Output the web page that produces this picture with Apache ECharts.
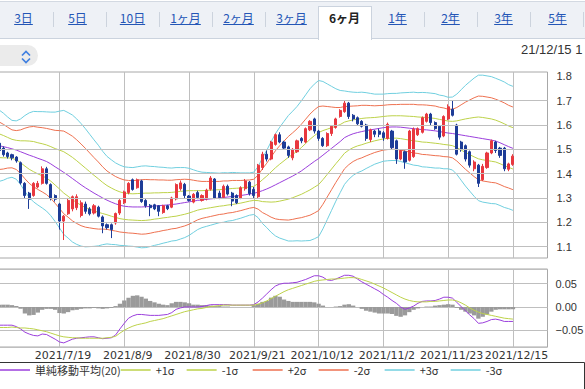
<!DOCTYPE html>
<html><head><meta charset="utf-8">
<script src="https://cdn.jsdelivr.net/npm/echarts@6/dist/echarts.min.js"></script>
<style>
html,body{margin:0;padding:0;background:#fff;width:585px;height:389px;overflow:hidden;}
#chart{position:absolute;left:0;top:0;width:585px;height:389px;}
#hdr{position:absolute;left:0;top:0;width:585px;height:70px;font-family:"Noto Sans CJK JP",sans-serif;z-index:2;}
.bar{position:absolute;left:0;top:1px;width:585px;height:36px;background:#eef1f6;border-top:1px solid #d3d9e2;border-bottom:1px solid #cbd3de;}
.tab{position:absolute;top:10px;width:53px;text-align:center;font-size:12px;line-height:16px;color:#2456b6;text-decoration:underline;}
.tab.on{color:#222;font-weight:bold;text-decoration:none;}
.sep{position:absolute;top:12px;width:1px;height:15px;background:#ccd3dd;}
.act{position:absolute;left:318px;top:6px;width:52px;height:33px;background:#fff;border:1px solid #cbd3de;border-bottom:none;}
.dd{position:absolute;left:-14px;top:45px;width:52px;height:21px;border-radius:11px;background:#ebebeb;}
.date{position:absolute;left:521px;top:42px;font:13px "Liberation Sans",Arial,sans-serif;line-height:16px;color:#333;white-space:nowrap;}
</style></head>
<body>
<div id="chart"></div>
<div id="hdr">
  <div class="bar"></div>
  <div class="act"></div>
  <div class="sep" style="left:53px"></div>
  <div class="sep" style="left:106px"></div>
  <div class="sep" style="left:159px"></div>
  <div class="sep" style="left:212px"></div>
  <div class="sep" style="left:265px"></div>
  <div class="sep" style="left:424px"></div>
  <div class="sep" style="left:477px"></div>
  <div class="sep" style="left:530px"></div>
  <div class="sep" style="left:583px"></div>
  <div class="tab" style="left:-3px">3日</div>
  <div class="tab" style="left:51px">5日</div>
  <div class="tab" style="left:106px">10日</div>
  <div class="tab" style="left:159px">1ヶ月</div>
  <div class="tab" style="left:212px">2ヶ月</div>
  <div class="tab" style="left:265px">3ヶ月</div>
  <div class="tab on" style="left:318px">6ヶ月</div>
  <div class="tab" style="left:371px">1年</div>
  <div class="tab" style="left:424px">2年</div>
  <div class="tab" style="left:477px">3年</div>
  <div class="tab" style="left:531px">5年</div>
  <div class="dd"></div>
  <svg style="position:absolute;left:20px;top:49px" width="12" height="16" viewBox="0 0 12 16">
    <polyline points="2,6.5 6,2.5 10,6.5" fill="none" stroke="#3f7fe0" stroke-width="1.7"/>
    <polyline points="2,9.5 6,13.5 10,9.5" fill="none" stroke="#3f7fe0" stroke-width="1.7"/>
  </svg>
  <div class="date">21/12/15 1</div>
</div>
<script>
const dates = ['2021/6/28','2021/6/29','2021/6/30','2021/7/1','2021/7/2','2021/7/6','2021/7/7','2021/7/8','2021/7/9','2021/7/12','2021/7/13','2021/7/14','2021/7/15','2021/7/16','2021/7/19','2021/7/20','2021/7/21','2021/7/22','2021/7/23','2021/7/26','2021/7/27','2021/7/28','2021/7/29','2021/7/30','2021/8/2','2021/8/3','2021/8/4','2021/8/5','2021/8/6','2021/8/9','2021/8/10','2021/8/11','2021/8/12','2021/8/13','2021/8/16','2021/8/17','2021/8/18','2021/8/19','2021/8/20','2021/8/23','2021/8/24','2021/8/25','2021/8/26','2021/8/27','2021/8/30','2021/8/31','2021/9/1','2021/9/2','2021/9/3','2021/9/7','2021/9/8','2021/9/9','2021/9/10','2021/9/13','2021/9/14','2021/9/15','2021/9/16','2021/9/17','2021/9/20','2021/9/21','2021/9/22','2021/9/23','2021/9/24','2021/9/27','2021/9/28','2021/9/29','2021/9/30','2021/10/1','2021/10/4','2021/10/5','2021/10/6','2021/10/7','2021/10/8','2021/10/11','2021/10/12','2021/10/13','2021/10/14','2021/10/15','2021/10/18','2021/10/19','2021/10/20','2021/10/21','2021/10/22','2021/10/25','2021/10/26','2021/10/27','2021/10/28','2021/10/29','2021/11/1','2021/11/2','2021/11/3','2021/11/4','2021/11/5','2021/11/8','2021/11/9','2021/11/10','2021/11/11','2021/11/12','2021/11/15','2021/11/16','2021/11/17','2021/11/18','2021/11/19','2021/11/22','2021/11/23','2021/11/24','2021/11/26','2021/11/29','2021/11/30','2021/12/1','2021/12/2','2021/12/3','2021/12/6','2021/12/7','2021/12/8','2021/12/9','2021/12/10','2021/12/13','2021/12/14','2021/12/15'];
const emptySlots = 8;
const tickDates = ['2021/7/19','2021/8/9','2021/8/30','2021/9/21','2021/10/12','2021/11/2','2021/11/23','2021/12/15'];
const priceTicks = [1.1,1.2,1.3,1.4,1.5,1.6,1.7];

const opens = [1.525,1.505,1.485,1.478,1.468,1.445,1.36,1.32,1.31,1.345,
1.36,1.42,1.355,1.31,1.275,1.205,1.235,1.255,1.26,1.228,
1.275,1.255,1.238,1.262,1.222,1.19,1.19,1.197,1.238,1.28,
1.322,1.375,1.342,1.37,1.29,1.27,1.272,1.268,1.24,1.268,
1.262,1.296,1.338,1.356,1.308,1.283,1.322,1.29,1.296,1.336,
1.378,1.32,1.303,1.348,1.32,1.31,1.30,1.338,1.365,1.335,
1.305,1.425,1.48,1.46,1.52,1.56,1.53,1.51,1.465,1.49,
1.545,1.53,1.58,1.625,1.575,1.545,1.515,1.565,1.59,1.635,
1.655,1.69,1.64,1.63,1.615,1.60,1.54,1.575,1.575,1.568,
1.545,1.575,1.535,1.46,1.49,1.455,1.47,1.56,1.57,1.615,
1.645,1.61,1.595,1.555,1.625,1.665,1.60,1.53,1.515,1.49,
1.42,1.435,1.375,1.425,1.485,1.53,1.505,1.505,1.418,1.438];
const closes = [1.495,1.478,1.47,1.465,1.452,1.362,1.31,1.295,1.36,1.36,
1.42,1.36,1.30,1.295,1.205,1.225,1.29,1.305,1.305,1.28,
1.245,1.235,1.268,1.225,1.185,1.178,1.17,1.236,1.29,1.325,
1.36,1.335,1.375,1.285,1.268,1.26,1.255,1.245,1.268,1.256,
1.30,1.355,1.362,1.31,1.29,1.315,1.302,1.31,1.332,1.382,
1.30,1.302,1.348,1.316,1.287,1.28,1.342,1.37,1.318,1.31,
1.435,1.48,1.46,1.53,1.56,1.53,1.505,1.475,1.50,1.535,
1.535,1.585,1.615,1.575,1.545,1.515,1.565,1.595,1.625,1.66,
1.69,1.635,1.625,1.605,1.595,1.545,1.58,1.562,1.562,1.548,
1.603,1.507,1.46,1.495,1.448,1.575,1.583,1.585,1.63,1.645,
1.61,1.585,1.55,1.635,1.675,1.64,1.48,1.50,1.46,1.435,
1.448,1.36,1.43,1.485,1.535,1.495,1.475,1.42,1.44,1.472];
const lows = [1.49,1.47,1.462,1.455,1.445,1.355,1.30,1.255,1.305,1.34,
1.355,1.355,1.29,1.285,1.17,1.127,1.23,1.245,1.25,1.22,
1.235,1.228,1.232,1.22,1.155,1.17,1.135,1.19,1.23,1.275,
1.315,1.33,1.338,1.28,1.26,1.225,1.25,1.225,1.235,1.25,
1.258,1.29,1.33,1.30,1.285,1.278,1.295,1.285,1.29,1.33,
1.295,1.295,1.298,1.31,1.266,1.275,1.295,1.33,1.31,1.30,
1.30,1.415,1.45,1.455,1.515,1.525,1.50,1.465,1.455,1.485,
1.525,1.525,1.575,1.565,1.535,1.51,1.51,1.555,1.585,1.63,
1.65,1.625,1.615,1.60,1.59,1.535,1.53,1.55,1.55,1.535,
1.54,1.50,1.44,1.455,1.42,1.45,1.465,1.555,1.565,1.61,
1.60,1.58,1.54,1.55,1.62,1.635,1.475,1.49,1.45,1.425,
1.41,1.345,1.37,1.42,1.48,1.485,1.465,1.41,1.41,1.432];
const highs = [1.535,1.512,1.49,1.482,1.472,1.45,1.365,1.325,1.365,1.37,
1.43,1.428,1.36,1.315,1.28,1.23,1.30,1.31,1.315,1.29,
1.285,1.262,1.275,1.268,1.228,1.195,1.195,1.24,1.295,1.33,
1.365,1.38,1.38,1.375,1.295,1.275,1.276,1.27,1.272,1.272,
1.305,1.36,1.372,1.362,1.312,1.32,1.33,1.315,1.338,1.39,
1.382,1.33,1.355,1.355,1.325,1.315,1.348,1.378,1.37,1.345,
1.44,1.49,1.495,1.535,1.565,1.57,1.535,1.515,1.505,1.54,
1.55,1.59,1.62,1.63,1.58,1.55,1.57,1.60,1.63,1.665,
1.70,1.695,1.645,1.635,1.62,1.605,1.585,1.58,1.585,1.575,
1.61,1.58,1.54,1.50,1.495,1.58,1.59,1.59,1.635,1.65,
1.65,1.615,1.60,1.64,1.685,1.70,1.605,1.535,1.52,1.495,
1.455,1.44,1.44,1.49,1.54,1.535,1.51,1.51,1.445,1.48];

const ma20 = [1.515,1.511,1.507,1.502,1.497,1.49,1.483,1.476,1.47,1.463,
1.457,1.45,1.44,1.428,1.417,1.405,1.393,1.38,1.367,1.354,
1.342,1.331,1.32,1.31,1.30,1.291,1.283,1.276,1.27,1.266,
1.264,1.263,1.263,1.263,1.264,1.265,1.267,1.268,1.27,1.271,
1.273,1.275,1.278,1.281,1.284,1.287,1.29,1.292,1.294,1.296,
1.298,1.30,1.302,1.304,1.306,1.308,1.31,1.313,1.316,1.319,
1.324,1.33,1.337,1.345,1.354,1.363,1.372,1.381,1.39,1.40,
1.411,1.424,1.437,1.45,1.462,1.476,1.49,1.504,1.518,1.532,
1.548,1.557,1.564,1.569,1.573,1.577,1.58,1.583,1.586,1.589,
1.591,1.592,1.592,1.591,1.589,1.587,1.585,1.583,1.581,1.58,
1.578,1.576,1.573,1.57,1.567,1.565,1.562,1.559,1.556,1.553,
1.55,1.547,1.544,1.541,1.538,1.534,1.527,1.519,1.511,1.504];
const sigma20 = [0.049,0.046,0.042,0.039,0.04,0.045,0.052,0.058,0.062,0.064,
0.066,0.068,0.071,0.075,0.08,0.085,0.086,0.087,0.086,0.084,
0.081,0.077,0.073,0.069,0.064,0.06,0.058,0.056,0.055,0.054,
0.054,0.054,0.055,0.056,0.056,0.055,0.054,0.053,0.052,0.051,
0.05,0.05,0.049,0.048,0.046,0.043,0.04,0.038,0.037,0.036,
0.035,0.034,0.034,0.033,0.033,0.032,0.031,0.03,0.029,0.029,
0.035,0.045,0.053,0.062,0.07,0.076,0.081,0.086,0.089,0.092,
0.096,0.1,0.104,0.106,0.107,0.101,0.093,0.085,0.077,0.07,
0.064,0.06,0.057,0.055,0.054,0.052,0.05,0.048,0.047,0.046,
0.046,0.046,0.046,0.047,0.048,0.049,0.05,0.05,0.051,0.051,
0.051,0.051,0.05,0.05,0.049,0.05,0.055,0.062,0.069,0.075,
0.081,0.086,0.087,0.087,0.087,0.086,0.086,0.086,0.085,0.085];

const macdLine = [-0.039,-0.039,-0.039,-0.039,-0.042,-0.047,-0.054,-0.058,-0.061,-0.062,
-0.058,-0.059,-0.064,-0.069,-0.075,-0.077,-0.073,-0.069,-0.067,-0.066,
-0.065,-0.064,-0.064,-0.066,-0.068,-0.067,-0.066,-0.06,-0.047,-0.035,
-0.024,-0.019,-0.016,-0.016,-0.017,-0.018,-0.018,-0.018,-0.017,-0.016,
-0.012,-0.005,-0.002,0,0,0,0,0.001,0.003,0.005,
0.005,0.005,0.005,0.005,0.004,0.004,0.004,0.004,0.004,0.005,
0.011,0.019,0.028,0.037,0.045,0.049,0.051,0.051,0.052,0.053,
0.056,0.059,0.063,0.067,0.067,0.064,0.058,0.057,0.06,0.064,
0.068,0.068,0.066,0.06,0.054,0.049,0.044,0.039,0.034,0.027,
0.021,0.014,0.008,0,-0.005,-0.002,0.002,0.008,0.012,0.013,
0.013,0.014,0.017,0.021,0.021,0.019,0.01,0.001,-0.008,-0.017,
-0.025,-0.035,-0.034,-0.031,-0.027,-0.026,-0.028,-0.031,-0.031,-0.031];
const signalLine = [-0.044,-0.044,-0.044,-0.043,-0.044,-0.045,-0.045,-0.046,-0.047,-0.049,
-0.051,-0.053,-0.056,-0.059,-0.062,-0.064,-0.065,-0.066,-0.066,-0.067,
-0.067,-0.067,-0.067,-0.067,-0.067,-0.066,-0.065,-0.063,-0.056,-0.05,
-0.045,-0.041,-0.038,-0.036,-0.034,-0.031,-0.029,-0.027,-0.025,-0.022,
-0.019,-0.016,-0.013,-0.01,-0.008,-0.006,-0.004,-0.003,-0.001,0.001,
0.002,0.003,0.004,0.004,0.004,0.004,0.004,0.004,0.004,0.004,
0.006,0.009,0.013,0.018,0.023,0.028,0.033,0.037,0.04,0.043,
0.046,0.049,0.052,0.055,0.057,0.058,0.059,0.06,0.06,0.061,
0.062,0.063,0.063,0.062,0.059,0.056,0.053,0.049,0.045,0.041,
0.036,0.031,0.026,0.021,0.017,0.014,0.012,0.011,0.011,0.011,
0.012,0.012,0.013,0.014,0.015,0.015,0.013,0.009,0.004,-0.002,
-0.007,-0.011,-0.014,-0.016,-0.018,-0.02,-0.022,-0.024,-0.025,-0.026];
const histBars = [0.005,0.005,0.005,0.004,0.002,-0.004,-0.014,-0.018,-0.017,-0.012,
-0.006,-0.004,-0.004,-0.006,-0.013,-0.014,-0.011,-0.007,-0.006,-0.004,
-0.003,-0.003,-0.002,-0.003,-0.004,-0.003,-0.002,0.002,0.007,0.014,
0.02,0.024,0.025,0.022,0.018,0.013,0.01,0.007,0.005,0.004,
0.008,0.011,0.011,0.01,0.008,0.005,0.005,0.004,0.004,0.003,
0.002,0.002,0.001,0.001,0,0,0,0,0,0.004,
0.007,0.011,0.013,0.02,0.024,0.022,0.016,0.013,0.011,0.011,
0.011,0.011,0.011,0.01,0.007,0.003,0,0,0.001,0.002,
0.005,0.006,0.003,0,-0.004,-0.008,-0.01,-0.012,-0.014,-0.014,
-0.014,-0.015,-0.019,-0.021,-0.018,-0.011,-0.006,-0.003,0,0.001,
0.001,0.003,0.004,0.005,0.006,0.005,-0.002,-0.006,-0.01,-0.014,
-0.018,-0.025,-0.021,-0.016,-0.01,-0.006,-0.005,-0.005,-0.005,-0.005];

const categories = dates.concat(Array(emptySlots).fill(''));
const tickIdx = new Set(tickDates.map(d => dates.indexOf(d)));
const atTick = (i) => tickIdx.has(i);
const candles = opens.map((o, i) => [o, closes[i], lows[i], highs[i]]);
const band = (k) => ma20.map((m, i) => +(m + k * sigma20[i]).toFixed(4));

const GRID = '#bfbfbf', FRAME = '#a8a8a8';
const C_MA = '#9b3fdc', C_1 = '#bdd24a', C_2 = '#ee7150', C_3 = '#70cfdf';
const lineS = (name, data, color, extra) => Object.assign({
  name, type: 'line', data, xAxisIndex: 0, yAxisIndex: 0, symbol: 'none',
  lineStyle: { color, width: 1 }, itemStyle: { color }, z: 2, silent: true
}, extra || {});

const chart = echarts.init(document.getElementById('chart'), null, { renderer: 'svg' });
chart.setOption({
  animation: false,
  grid: [
    { left: -1, top: 72, width: 548.5, height: 186, show: true, borderColor: FRAME, borderWidth: 1, backgroundColor: 'rgba(0,0,0,0)', outerBoundsMode: 'none' },
    { left: -1, top: 269, width: 548.5, height: 78, show: true, borderColor: FRAME, borderWidth: 1, backgroundColor: 'rgba(0,0,0,0)', outerBoundsMode: 'none' }
  ],
  xAxis: [
    { type: 'category', gridIndex: 0, data: categories, boundaryGap: false,
      axisLine: { show: false }, axisTick: { show: false }, axisLabel: { show: false },
      splitLine: { show: true, interval: (i) => atTick(i), lineStyle: { color: GRID, width: 1 } } },
    { type: 'category', gridIndex: 1, data: categories, boundaryGap: false,
      axisLine: { show: false }, axisTick: { show: false },
      axisLabel: { show: true, interval: (i) => atTick(i), color: '#333', fontSize: 11, fontFamily: 'DejaVu Sans', margin: 3, padding: [0, 0, 0, 7] },
      splitLine: { show: true, interval: (i) => atTick(i), lineStyle: { color: GRID, width: 1 } } }
  ],
  yAxis: [
    { type: 'value', gridIndex: 0, position: 'right', min: 1.0531, max: 1.818, minInterval: 0.1, maxInterval: 0.1,
      axisLine: { show: false }, axisTick: { show: false }, splitLine: { show: false },
      axisLabel: { margin: 9, color: '#333', fontSize: 11, fontFamily: 'Liberation Sans',
        formatter: (v) => Math.abs(v * 10 - Math.round(v * 10)) > 1e-6 ? '' : v.toFixed(1) } },
    { type: 'value', gridIndex: 1, position: 'right', min: -0.0858, max: 0.0815, minInterval: 0.05, maxInterval: 0.05,
      axisLine: { show: false }, axisTick: { show: false },
      splitLine: { show: true, lineStyle: { color: GRID, width: 1 } },
      axisLabel: { margin: 8, color: '#333', fontSize: 11, fontFamily: 'Liberation Sans',
        formatter: (v) => {
          if (Math.abs(v * 20 - Math.round(v * 20)) > 1e-6) return '';
          if (Math.abs(v) < 1e-9) return '0.00';
          return (v < 0 ? '\u2212' : '') + Math.abs(v).toFixed(2);
        } } }
  ],
  legend: {
    left: 0, top: 363, padding: 0, itemGap: 0, itemWidth: 30, itemHeight: 1.5, icon: 'rect', selectedMode: false,
    textStyle: { fontFamily: 'Noto Sans CJK JP', fontSize: 11, color: '#333', lineHeight: 14 },
    data: [
      { name: '単純移動平均(20)' },
      { name: '+1σ', textStyle: { width: 31 } },
      { name: '-1σ', textStyle: { width: 31 } },
      { name: '+2σ', textStyle: { width: 31 } },
      { name: '-2σ', textStyle: { width: 31 } },
      { name: '+3σ', textStyle: { width: 31 } },
      { name: '-3σ', textStyle: { width: 31 } }
    ]
  },
  graphic: [
    { type: 'rect', silent: true, z: 100, shape: { x: -2, y: 362.5, width: 586.5, height: 40 },
      style: { fill: 'none', stroke: '#333', lineWidth: 1 } }
  ],
  series: [
    lineS('-3σ', band(-3), C_3, {
      markLine: { silent: true, symbol: ['none', 'none'], label: { show: false }, animation: false,
        lineStyle: { color: GRID, type: 'solid', width: 1 },
        data: priceTicks.map(v => ({ yAxis: v })) }
    }),
    lineS('+3σ', band(3), C_3),
    lineS('-2σ', band(-2), C_2),
    lineS('+2σ', band(2), C_2),
    lineS('-1σ', band(-1), C_1),
    lineS('+1σ', band(1), C_1),
    lineS('単純移動平均(20)', ma20, C_MA),
    { name: 'price', type: 'candlestick', xAxisIndex: 0, yAxisIndex: 0, data: candles, barWidth: 2.6, z: 3, silent: true,
      itemStyle: { color: '#e8383f', color0: '#1d3c97', borderColor: '#e8383f', borderColor0: '#1d3c97', borderWidth: 1 } },
    { name: 'hist', type: 'bar', xAxisIndex: 1, yAxisIndex: 1, data: histBars, barCategoryGap: '0%', silent: true,
      itemStyle: { color: '#9a9a9a' }, z: 2 },
    { name: 'MACD', type: 'line', xAxisIndex: 1, yAxisIndex: 1, data: macdLine, symbol: 'none', silent: true,
      lineStyle: { color: C_MA, width: 1 }, z: 3 },
    { name: 'signal', type: 'line', xAxisIndex: 1, yAxisIndex: 1, data: signalLine, symbol: 'none', silent: true,
      lineStyle: { color: C_1, width: 1 }, z: 3 }
  ]
});
</script>
</body></html>
